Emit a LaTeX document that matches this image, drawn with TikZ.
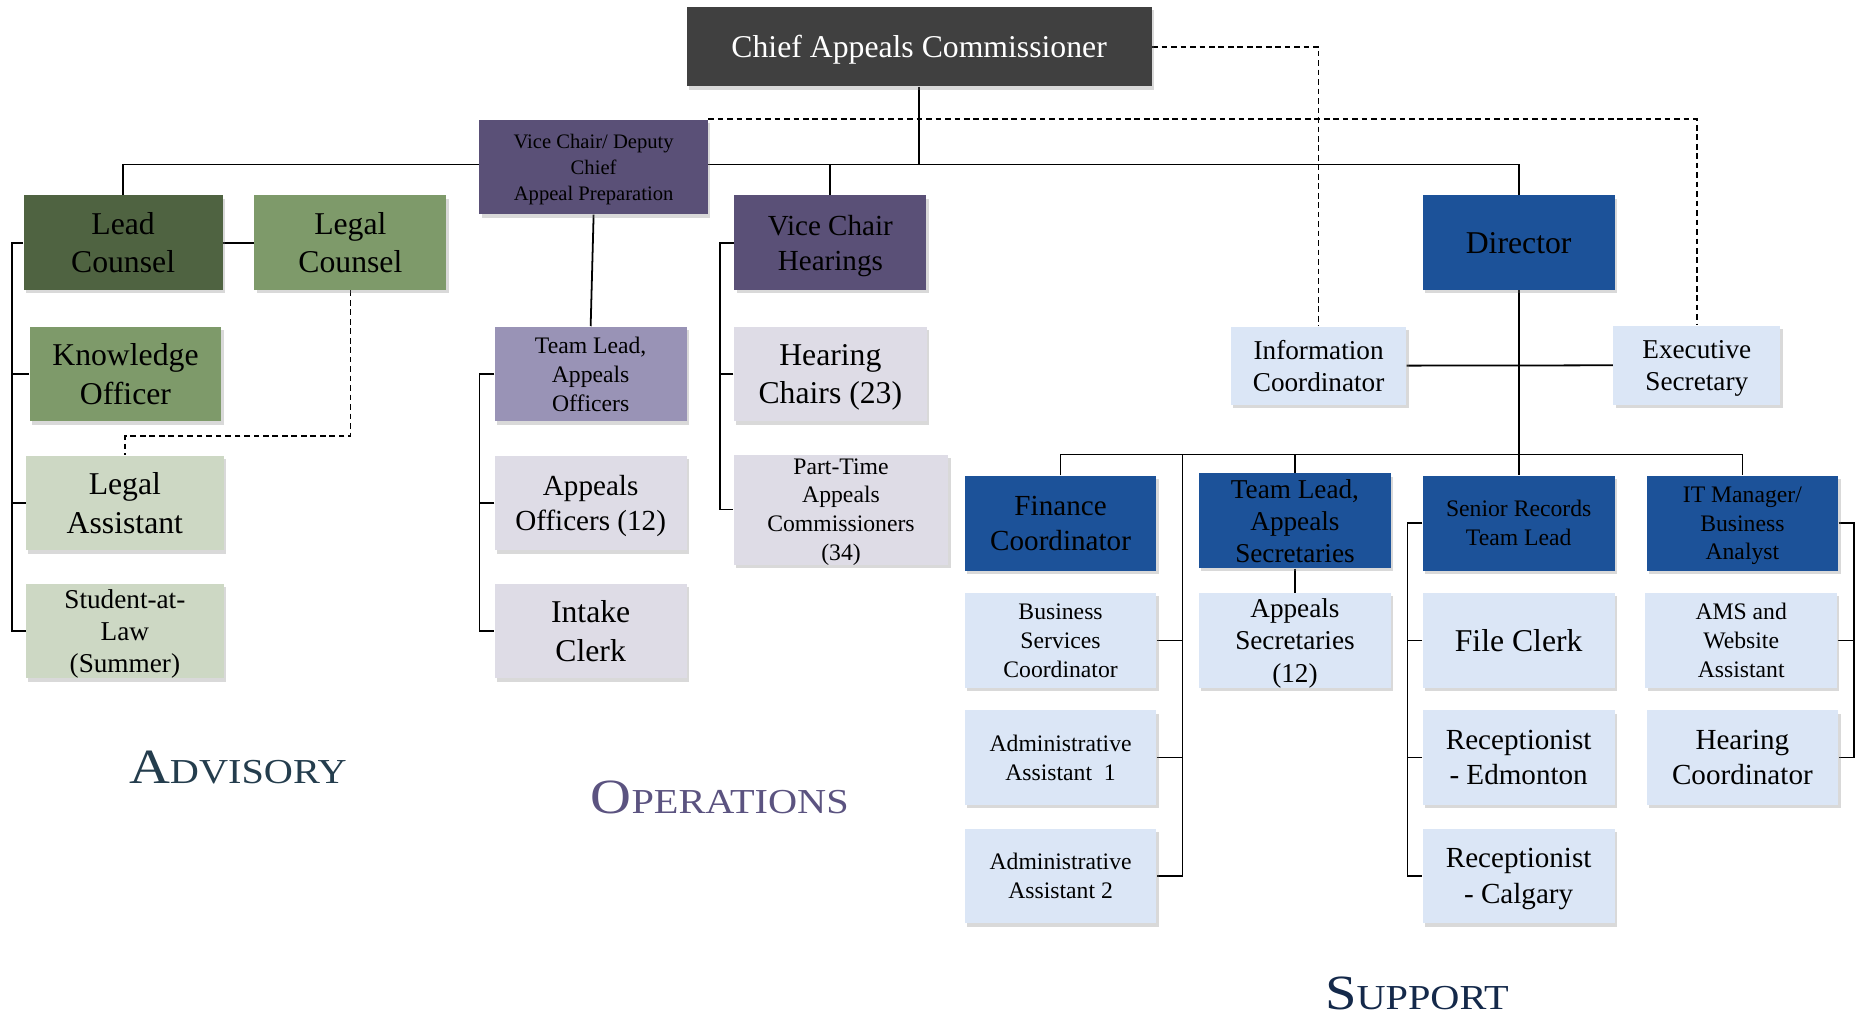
\documentclass[tikz,border=0pt]{standalone}
\usepackage{fontspec}
\setmainfont{Liberation Serif}
\usetikzlibrary{shadows,backgrounds}

\definecolor{chiefgray}{HTML}{404040}
\definecolor{vcpurple}{HTML}{5A5077}
\definecolor{leadpurple}{HTML}{9993B6}
\definecolor{opsgray}{HTML}{DEDCE6}
\definecolor{darkgreen}{HTML}{4F6341}
\definecolor{midgreen}{HTML}{7E9A6A}
\definecolor{palegreen}{HTML}{CDD8C4}
\definecolor{supblue}{HTML}{1C5299}
\definecolor{paleblue}{HTML}{DBE6F6}
\definecolor{advtext}{HTML}{243D4D}
\definecolor{opstext}{HTML}{5B5380}
\definecolor{suptext}{HTML}{14294A}

% fake small caps for the group titles
\newcommand{\sectitle}[2]{\scalebox{1.15}[1]{{\fontsize{20.8}{21}\selectfont #1}{\fontsize{14.8}{15}\selectfont #2}}}

\tikzset{
    box/.style={rectangle, minimum width=81pt, minimum height=40pt, inner sep=1pt, align=center,
        text depth=-1.5pt,
        drop shadow={shadow xshift=1pt, shadow yshift=-1.4pt, opacity=0.3}},
    txtL/.style={font=\fontsize{13.4}{16.2}\selectfont},
    txtM/.style={font=\fontsize{12.3}{15}\selectfont},
    txtS/.style={font=\fontsize{11.5}{13.6}\selectfont},
    txtXS/.style={font=\fontsize{10}{12.2}\selectfont},
    txtXXS/.style={font=\fontsize{8.7}{11}\selectfont},
    link/.style={line width=0.75pt},
    dashlink/.style={line width=0.7pt, dash pattern=on 2.4pt off 1.6pt},
}

\begin{document}
\begin{tikzpicture}[x=0.5pt,y=-0.5pt]
    \useasboundingbox (0,0) rectangle (1568,859);
    % top level
    \node[box, fill=chiefgray, text=white, txtL, minimum width=196.5pt, minimum height=33.5pt] (chief) at (776.5,39.5) {Chief Appeals Commissioner};
    \node[box, fill=vcpurple, txtXXS, minimum width=96.5pt] (vcdep) at (501.5,141) {Vice Chair/ Deputy\\Chief\\Appeal Preparation};
    \node[box, fill=vcpurple, txtM] (vchear) at (701.5,205) {Vice Chair\\Hearings};
    \node[box, fill=supblue, txtL] (director) at (1283,205) {Director};
    % advisory
    \node[box, fill=darkgreen, txtL, minimum width=84pt] (lead) at (104,205) {Lead\\Counsel};
    \node[box, fill=midgreen, txtL] (legal) at (296,205) {Legal\\Counsel};
    \node[box, fill=midgreen, txtL] (know) at (106,316) {Knowledge\\Officer};
    \node[box, fill=palegreen, txtL, minimum width=83.5pt] (legasst) at (105.5,425) {Legal\\Assistant};
    \node[box, fill=palegreen, txtS, minimum width=83.5pt] (student) at (105.5,533) {Student-at-\\Law\\(Summer)};
    % operations
    \node[box, fill=leadpurple, txtXS] (tlao) at (499,316) {Team Lead,\\Appeals\\Officers};
    \node[box, fill=opsgray, txtM] (appoff) at (499,425) {Appeals\\Officers (12)};
    \node[box, fill=opsgray, txtL] (intake) at (499,533) {Intake\\Clerk};
    \node[box, fill=opsgray, txtL, minimum width=81.5pt] (hchairs) at (701.5,316) {Hearing\\Chairs (23)};
    \node[box, fill=opsgray, txtXS, minimum width=90.5pt, minimum height=46.5pt] (parttime) at (710.5,430.5) {Part-Time\\Appeals\\Commissioners\\(34)};
    % support
    \node[box, fill=paleblue, txtS, minimum width=74pt, minimum height=33pt] (infoc) at (1114,309) {Information\\Coordinator};
    \node[box, fill=paleblue, txtS, minimum width=70.5pt, minimum height=33.5pt] (execsec) at (1433.5,308.5) {Executive\\Secretary};
    \node[box, fill=supblue, txtM] (finance) at (896,442) {Finance\\Coordinator};
    \node[box, fill=supblue, txtS] (tlas) at (1094,440) {Team Lead,\\Appeals\\Secretaries};
    \node[box, fill=supblue, txtXS] (senrec) at (1283,442) {Senior Records\\Team Lead};
    \node[box, fill=supblue, txtXS] (itman) at (1472,442) {IT Manager/\\Business\\Analyst};
    \node[box, fill=paleblue, txtXS] (bizsvc) at (896,541) {Business\\Services\\Coordinator};
    \node[box, fill=paleblue, txtS] (appsec) at (1094,541) {Appeals\\Secretaries\\(12)};
    \node[box, fill=paleblue, txtL] (fileclerk) at (1283,541) {File Clerk};
    \node[box, fill=paleblue, txtXS] (ams) at (1471,541) {AMS and\\Website\\Assistant};
    \node[box, fill=paleblue, txtXS] (admin1) at (896,640) {Administrative\\Assistant~~1};
    \node[box, fill=paleblue, txtM] (rece) at (1283,640) {Receptionist\\- Edmonton};
    \node[box, fill=paleblue, txtM] (hearco) at (1472,640) {Hearing\\Coordinator};
    \node[box, fill=paleblue, txtXS] (admin2) at (896,740) {Administrative\\Assistant 2};
    \node[box, fill=paleblue, txtM] (recc) at (1283,740) {Receptionist\\- Calgary};
    % group titles
    \node[anchor=base, text=advtext] (advisory) at (201,662) {\sectitle{A}{DVISORY}};
    \node[anchor=base, text=opstext] (operations) at (608,687.6) {\sectitle{O}{PERATIONS}};
    \node[anchor=base, text=suptext] (support) at (1197,853) {\sectitle{S}{UPPORT}};

    % connectors
    \coordinate (topbus) at (776.5,139);
    \coordinate (advrail) at (10,0);
    \coordinate (opsrail) at (405,0);
    \coordinate (hearrail) at (608,0);
    \coordinate (supbus) at (1283,384);
    \coordinate (finrail) at (999,384);
    \coordinate (recrail) at (1189,0);
    \coordinate (itrail) at (1566,0);
    \begin{scope}[on background layer={link}]
        \draw (chief) -- (topbus);
        \draw (lead.north) |- (topbus) -| (director.north);
        \draw (vchear.north) -- (vchear.north |- topbus);
        \draw (lead) -- (legal);
        \draw (lead.west) -| (advrail |- student.west) -- (student.west);
        \foreach \n in {know, legasst}
            \draw (\n.west) -- (\n.west -| advrail);
        \draw (vcdep.south) -- (tlao.north);
        \draw (tlao.west) -| (opsrail |- intake.west) -- (intake.west);
        \draw (appoff.west) -- (appoff.west -| opsrail);
        \draw (vchear.west) -| (hearrail |- parttime.west) -- (parttime.west);
        \draw (hchairs.west) -- (hchairs.west -| hearrail);
        \draw (infoc) -- (execsec);
        \draw (director) -- (senrec);
        \draw (finance.north) |- (supbus) -| (itman.north);
        \draw (tlas.north) -- (tlas.north |- supbus);
        \draw (finrail) |- (admin2.east);
        \foreach \n in {bizsvc, admin1}
            \draw (\n.east) -- (\n.east -| finrail);
        \draw (tlas) -- (appsec);
        \draw (senrec.west) -| (recrail |- recc.west) -- (recc.west);
        \foreach \n in {fileclerk, rece}
            \draw (\n.west) -- (\n.west -| recrail);
        \draw (itman.east) -| (itrail |- hearco.east) -- (hearco.east);
        \draw (ams.east) -- (ams.east -| itrail);
    \end{scope}
    % dotted reporting lines
    \begin{scope}[on background layer={dashlink}]
        \draw (legal.south) -- ++(0,123) -| (legasst.north);
        \draw (chief.east) -| (infoc.north);
        \draw (vcdep.north east) -| (execsec.north);
    \end{scope}
\end{tikzpicture}
\end{document}
